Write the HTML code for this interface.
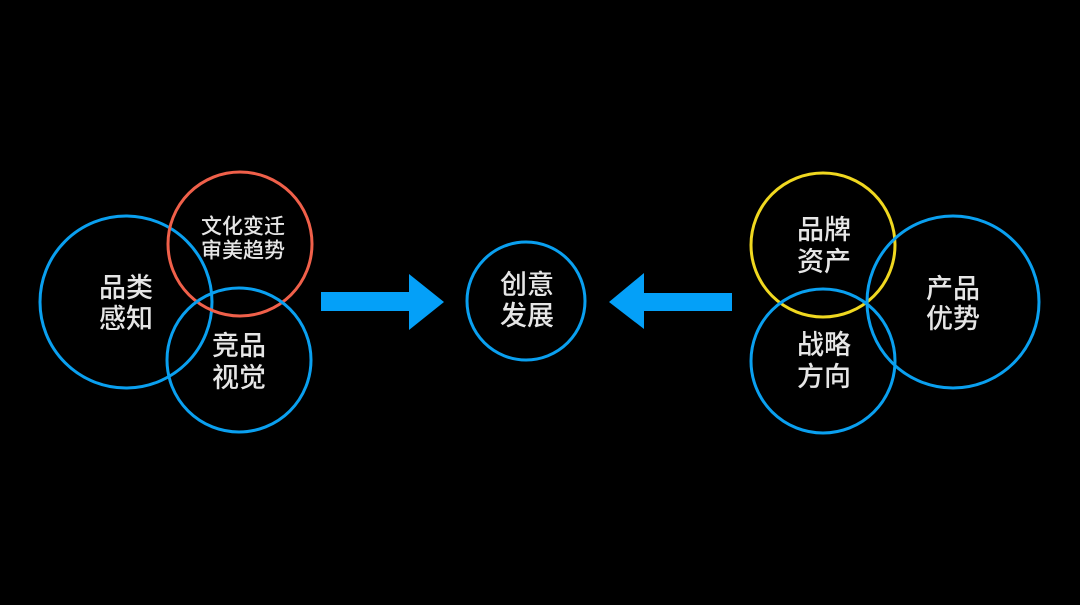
<!DOCTYPE html>
<html><head><meta charset="utf-8"><style>
html,body{margin:0;padding:0;background:#000;}
svg{display:block}
text{font-family:"Liberation Sans","Noto Sans CJK SC",sans-serif;fill:#e6e6e6;text-anchor:middle;dominant-baseline:central;font-weight:500;}
</style></head><body>
<svg width="1080" height="605" viewBox="0 0 1080 605">
<rect width="1080" height="605" fill="#000"/>
<g fill="none" stroke-width="3">
<circle cx="126" cy="302" r="86" stroke="#0aa0f0"/>
<circle cx="240" cy="244" r="72" stroke="#f0604a"/>
<circle cx="239" cy="360" r="72" stroke="#0aa0f0"/>
<circle cx="526" cy="301" r="59" stroke="#0aa0f0"/>
<circle cx="823" cy="245" r="72" stroke="#f0d820"/>
<circle cx="823" cy="361" r="72" stroke="#0aa0f0"/>
<circle cx="953" cy="302" r="86" stroke="#0aa0f0"/>
</g>
<polygon points="321,292 409,292 409,274 444,302 409,330 409,311 321,311" fill="#04a0f8"/>
<polygon points="732,293 644,293 644,273 609,302 644,329 644,311 732,311" fill="#04a0f8"/>
<g font-size="27">
<text x="126" y="288">品类</text><text x="126" y="319">感知</text>
<text x="239" y="346">竞品</text><text x="239" y="378">视觉</text>
<text x="527" y="285">创意</text><text x="527" y="316">发展</text>
<text x="824" y="230">品牌</text><text x="824" y="262">资产</text>
<text x="824" y="345">战略</text><text x="824" y="377">方向</text>
<text x="953" y="289">产品</text><text x="953" y="319">优势</text>
</g>
<g font-size="21">
<text x="243" y="227">文化变迁</text><text x="243" y="251">审美趋势</text>
</g>
</svg>
</body></html>
